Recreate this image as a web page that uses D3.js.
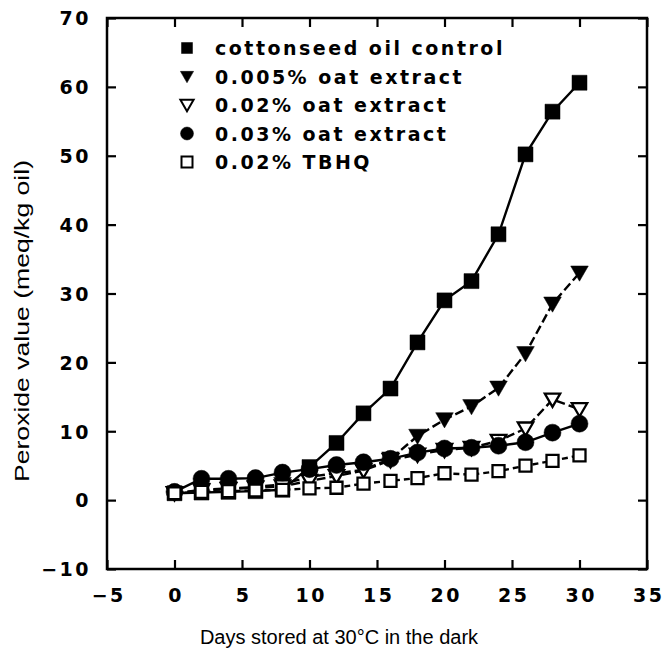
<!DOCTYPE html>
<html>
<head>
<meta charset="utf-8">
<script src="https://cdn.jsdelivr.net/npm/d3@7"></script>
<style>
  html, body { margin: 0; padding: 0; background: #fff; }
  svg { display: block; }
</style>
</head>
<body>
<svg id="chart" width="663" height="655"></svg>
<script>
// ---- data ----
const days = [0, 2, 4, 6, 8, 10, 12, 14, 16, 18, 20, 22, 24, 26, 28, 30];
const control = [1.0, 1.1, 1.2, 1.3, 1.5, 4.8, 8.3, 12.6, 16.2, 22.9, 29.0, 31.8, 38.6, 50.2, 56.4, 60.6];
const oat005 = [1.0, 1.5, 1.7, 1.9, 2.3, 3.4, 3.9, 4.4, 6.0, 9.3, 11.7, 13.6, 16.3, 21.3, 28.5, 33.0];
const oat002 = [1.0, 1.4, 1.6, 1.8, 2.0, 2.8, 3.5, 4.3, 5.8, 6.6, 7.3, 7.6, 8.6, 10.4, 14.6, 13.2];
const oat003 = [1.2, 3.1, 3.1, 3.2, 4.0, 4.5, 5.1, 5.5, 6.0, 6.9, 7.5, 7.6, 7.9, 8.4, 9.8, 11.1];
const tbhq = [1.0, 1.2, 1.3, 1.4, 1.5, 1.7, 1.8, 2.4, 2.8, 3.2, 3.9, 3.7, 4.2, 5.0, 5.7, 6.5];

const seriesNames = ["cottonseed oil control", "0.005% oat extract", "0.02% oat extract", "0.03% oat extract", "0.02% TBHQ"];
const xTicks = [-5, 0, 5, 10, 15, 20, 25, 30, 35];
const yTicks = [-10, 0, 10, 20, 30, 40, 50, 60, 70];
const xTitle = "Days stored at 30°C in the dark";
const yTitle = "Peroxide value (meq/kg oil)";

// ---- styles ----
const series = [
  { name: seriesNames[0], values: control, shape: "square", filled: true, dash: null },
  { name: seriesNames[1], values: oat005, shape: "tri", filled: true, dash: "9,4" },
  { name: seriesNames[2], values: oat002, shape: "tri", filled: false, dash: "9,4" },
  { name: seriesNames[3], values: oat003, shape: "circle", filled: true, dash: null },
  { name: seriesNames[4], values: tbhq, shape: "square", filled: false, dash: "6,4" }
];

const svg = d3.select("#chart");
const x = d3.scaleLinear().domain([-5, 35]).range([107, 647]);
const y = d3.scaleLinear().domain([-10, 70]).range([569, 18]);

const tickFont = "'DejaVu Sans', sans-serif";
const fmt = d => d < 0 ? "\u2212" + Math.abs(d) : String(d);

// frame
svg.append("rect")
  .attr("x", x(-5)).attr("y", y(70))
  .attr("width", x(35) - x(-5)).attr("height", y(-10) - y(70))
  .attr("fill", "none").attr("stroke", "#000").attr("stroke-width", 2.5);

const tickLen = 9;
const gx = svg.append("g").attr("transform", `translate(0,${y(-10)})`)
  .call(d3.axisBottom(x).tickValues(xTicks).tickSizeInner(-tickLen).tickSizeOuter(0).tickFormat(fmt));
const gxt = svg.append("g").attr("transform", `translate(0,${y(70)})`)
  .call(d3.axisTop(x).tickValues(xTicks).tickSizeInner(-tickLen).tickSizeOuter(0).tickFormat(""));
const gy = svg.append("g").attr("transform", `translate(${x(-5)},0)`)
  .call(d3.axisLeft(y).tickValues(yTicks).tickSizeInner(-tickLen).tickSizeOuter(0).tickFormat(fmt));
const gyr = svg.append("g").attr("transform", `translate(${x(35)},0)`)
  .call(d3.axisRight(y).tickValues(yTicks).tickSizeInner(-tickLen).tickSizeOuter(0).tickFormat(""));

[gx, gxt, gy, gyr].forEach(g => {
  g.select(".domain").remove();
  g.selectAll(".tick line").attr("stroke", "#000").attr("stroke-width", 2.2);
});

gx.selectAll(".tick text")
  .attr("y", 33).attr("dy", 0)
  .attr("dx", 1.2)
  .style("font-family", tickFont).style("font-weight", "bold")
  .style("font-size", "19px").style("letter-spacing", "2.5px")
  .attr("fill", "#000");

gy.selectAll(".tick text")
  .attr("x", -16).attr("dy", "0.36em")
  .style("font-family", tickFont).style("font-weight", "bold")
  .style("font-size", "19px").style("letter-spacing", "2.5px")
  .attr("fill", "#000");

// axis titles
svg.append("text")
  .attr("x", 339).attr("y", 644)
  .attr("text-anchor", "middle")
  .style("font-family", "'Liberation Sans', Arial, sans-serif")
  .style("font-size", "20px")
  .text(xTitle);

svg.append("text")
  .attr("transform", "translate(29,321) rotate(-90)")
  .attr("text-anchor", "middle")
  .attr("textLength", 322).attr("lengthAdjust", "spacingAndGlyphs")
  .style("font-family", "'Liberation Sans', Arial, sans-serif")
  .style("font-size", "20px")
  .text(yTitle);

function shapePath(shape, s) {
  if (shape === "square") {
    const h = s / 2;
    return `M${-h},${-h}H${h}V${h}H${-h}Z`;
  }
  if (shape === "circle") {
    return d3.symbol().type(d3.symbolCircle).size(Math.PI * (s / 2) * (s / 2))();
  }
  const w = s * 1.1, hh = s * 0.95;
  return `M${-w / 2},${-hh * 0.45}H${w / 2}L0,${hh * 0.55}Z`;
}

const line = d3.line().x((d, i) => x(days[i])).y(d => y(d));

const gData = svg.append("g");
series.forEach(sr => {
  gData.append("path")
    .attr("d", line(sr.values))
    .attr("fill", "none").attr("stroke", "#000").attr("stroke-width", 2.4)
    .attr("stroke-dasharray", sr.dash);
});
series.forEach(sr => {
  const size = sr.shape === "circle" ? 17 : (sr.shape === "tri" ? 16 : (sr.filled ? 15 : 14));
  gData.append("g").selectAll("path")
    .data(sr.values)
    .join("path")
    .attr("transform", (d, i) => `translate(${x(days[i])},${y(d)})`)
    .attr("d", shapePath(sr.shape, sr.filled ? size : size - 2))
    .attr("fill", sr.filled ? "#000" : "#fff")
    .attr("stroke", "#000").attr("stroke-width", sr.filled ? 0.5 : 2.3);
});

// legend
const lgX = 187, lgTextX = 215, lgY0 = 48, lgDy = 28.5;
const lg = svg.append("g");
series.forEach((sr, i) => {
  const cy = lgY0 + i * lgDy;
  const size = sr.shape === "circle" ? 13 : (sr.shape === "tri" ? 12 : 11);
  lg.append("path")
    .attr("transform", `translate(${lgX},${cy})`)
    .attr("d", shapePath(sr.shape, size))
    .attr("fill", sr.filled ? "#000" : "#fff")
    .attr("stroke", "#000").attr("stroke-width", sr.filled ? 0.5 : 2);
  lg.append("text")
    .attr("x", lgTextX).attr("y", cy + 7)
    .style("font-family", tickFont).style("font-weight", "bold")
    .style("font-size", "19px").style("letter-spacing", "2.5px")
    .text(sr.name);
});
</script>
</body>
</html>
